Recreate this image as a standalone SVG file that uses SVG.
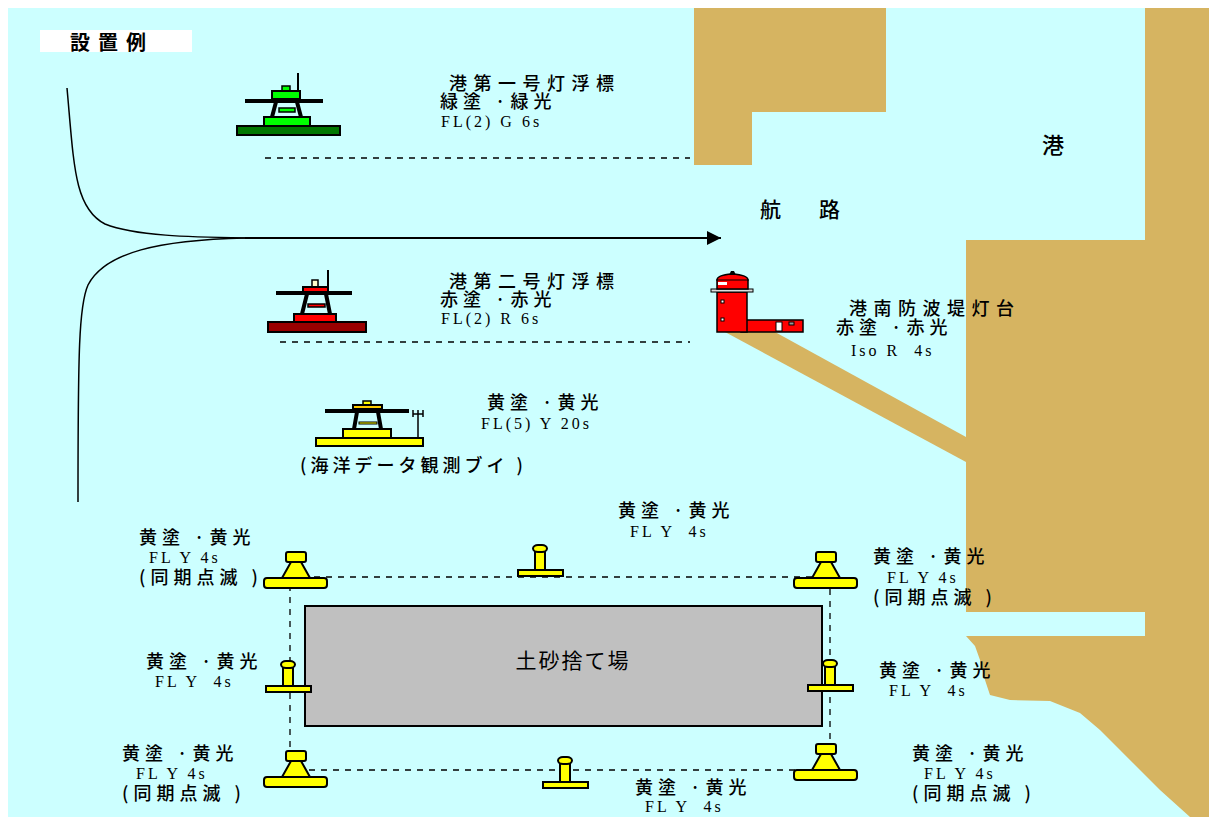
<svg xmlns="http://www.w3.org/2000/svg" width="1209" height="817" viewBox="0 0 1209 817">
  <defs>
    <style>
      .sea { fill: #CCFFFF; }
      .land { fill: #D6B461; }
      .ln { stroke: #000; stroke-width: 1.5; }
      .jp { font-family: "Noto Sans CJK JP", "Noto Sans", sans-serif; font-size: 18px; font-weight: 500; fill: #000; letter-spacing: 5px; white-space: pre; }
      .jp7 { letter-spacing: 6.5px; }
      .en { font-family: "Liberation Serif", "DejaVu Serif", serif; font-size: 16px; fill: #000; letter-spacing: 3px; white-space: pre; }
      .dash { fill: none; stroke: #000; stroke-width: 1.3; stroke-dasharray: 6 6; }
      .yb { fill: #FFFF00; stroke: #000; stroke-width: 2; }
    </style>
    <marker id="arrow" viewBox="0 0 10 10" refX="10" refY="5" markerWidth="24" markerHeight="14" markerUnits="userSpaceOnUse" orient="auto">
      <path d="M0,0 L10,5 L0,10 Z" fill="#000"/>
    </marker>
    <!-- large corner buoy -->
    <g id="bigbuoy">
      <path class="yb" d="M-5,10 L5,10 L14,26 L-14,26 Z"/>
      <rect class="yb" x="-10" y="0" width="20" height="10" rx="2"/>
      <rect class="yb" x="-32" y="26" width="63" height="10" rx="3"/>
    </g>
    <!-- small bollard buoy -->
    <g id="smallbuoy">
      <rect class="yb" x="-5" y="6" width="10" height="19"/>
      <rect class="yb" x="-7" y="0" width="14" height="7" rx="5"/>
      <rect class="yb" x="-22" y="25" width="45" height="6"/>
    </g>
  </defs>

  <!-- sea -->
  <rect x="0" y="0" width="1209" height="817" fill="#FFFFFF"/>
  <rect class="sea" x="8" y="8" width="1201" height="809"/>

  <!-- land masses -->
  <g id="land">
    <path class="land" d="M694,8 H886 V112 H752 V165 H694 Z"/>
    <path class="land" d="M1145,8 H1209 V817 H1190 L1180,808 L1160,790 L1140,770 L1120,750 L1100,730 L1080,713 L1050,701 L1010,700 L990,695 L985,680 L980,660 L975,646 L966,636 H1145 V612 H966 V240 H1145 Z"/>
    <!-- breakwater -->
    <path class="land" d="M725,332 H775 L966,437 V462 Z"/>
  </g>

  <!-- label -->
  <g id="title">
    <rect x="40" y="30" width="152" height="22" fill="#FFFFFF"/>
    <text x="70" y="50" font-family="Noto Sans CJK JP, sans-serif" font-size="20" font-weight="bold" letter-spacing="8">設置例</text>
  </g>

  <!-- connectors -->
  <g id="connectors">
    <path class="ln" fill="none" d="M67,88 C74,165 74,208 105,224 C135,236 190,237 245,238"/>
    <path class="ln" fill="none" d="M245,238 C160,240 105,252 88,285 C79,305 78,350 78,502"/>
    <line x1="245" y1="238" x2="721" y2="238" stroke="#000" stroke-width="2" marker-end="url(#arrow)"/>
    <line class="dash" x1="265" y1="158" x2="690" y2="158"/>
    <line class="dash" x1="280" y1="342" x2="690" y2="342"/>
    <path class="dash" d="M290,577 H830 V770 H290 Z"/>
  </g>

  <!-- waterway labels -->
  <text class="jp" x="760" y="217" style="font-size:21px; letter-spacing:38px">航路</text>
  <text class="jp" x="1042" y="153" style="font-size:22px">港</text>

  <!-- harbour buoy No.1 (green) -->
  <g id="buoy-g1">
    <line x1="298" y1="73" x2="298" y2="91" stroke="#000" stroke-width="2"/>
    <rect x="282" y="86" width="8" height="5" fill="#00FF00" stroke="#000" stroke-width="1.5"/>
    <rect x="272" y="91" width="28" height="8" fill="#00FF00" stroke="#000" stroke-width="2"/>
    <line x1="245" y1="101" x2="323" y2="101" stroke="#000" stroke-width="4"/>
    <path d="M276,102 L272,117 M297,102 L301,117" stroke="#000" stroke-width="4" fill="none"/>
    <rect x="279" y="108" width="16" height="4" fill="#00FF00" stroke="#000" stroke-width="1.5"/>
    <rect x="264" y="117" width="46" height="9" fill="#00FF00" stroke="#000" stroke-width="2"/>
    <rect x="237" y="126" width="103" height="9" fill="#007700" stroke="#000" stroke-width="2"/>
  </g>
  <text class="jp jp7" x="449" y="90">港第一号灯浮標</text>
  <text class="jp" x="440" y="108">緑塗 ·緑光</text>
  <text class="en" x="441" y="127">FL(2) G 6s</text>

  <!-- harbour buoy No.2 (red) -->
  <g id="buoy-r2">
    <line x1="328" y1="270" x2="328" y2="287" stroke="#000" stroke-width="2"/>
    <rect x="312" y="280" width="6" height="7" fill="#FFFFCC" stroke="#000" stroke-width="1.5"/>
    <rect x="303" y="287" width="25" height="6" fill="#FF0000" stroke="#000" stroke-width="2"/>
    <line x1="276" y1="293" x2="352" y2="293" stroke="#000" stroke-width="4"/>
    <path d="M307,294 L302,314 M326,294 L330,314" stroke="#000" stroke-width="4" fill="none"/>
    <rect x="308" y="304" width="17" height="3" fill="#FF0000" stroke="#000" stroke-width="1.5"/>
    <rect x="294" y="314" width="42" height="8" fill="#FF0000" stroke="#000" stroke-width="2"/>
    <rect x="268" y="322" width="98" height="10" fill="#990000" stroke="#000" stroke-width="2"/>
  </g>
  <text class="jp jp7" x="449" y="288">港第二号灯浮標</text>
  <text class="jp" x="440" y="306">赤塗 ·赤光</text>
  <text class="en" x="441" y="324">FL(2) R 6s</text>

  <!-- south breakwater lighthouse -->
  <g id="lighthouse">
    <rect x="741" y="320" width="62" height="12" fill="#FF0000" stroke="#000" stroke-width="1.5"/>
    <rect x="776" y="322" width="6" height="9" fill="#FFFFFF" stroke="#000" stroke-width="1"/>
    <rect x="789" y="322" width="5" height="3" fill="#999999" stroke="#000" stroke-width="1"/>
    <rect x="717" y="292" width="30" height="40" fill="#FF0000" stroke="#000" stroke-width="1.5"/>
    <rect x="721" y="300" width="3" height="3" fill="#FFFFFF" stroke="#000" stroke-width="1"/>
    <rect x="721" y="318" width="3" height="3" fill="#FFFFFF" stroke="#000" stroke-width="1"/>
    <rect x="711" y="289" width="42" height="3" fill="#DDDDDD" stroke="#000" stroke-width="1"/>
    <path d="M717,289 V280 Q717,275 732,274 Q748,275 748,280 V289 Z" fill="#FF0000" stroke="#000" stroke-width="1.5"/>
    <line x1="716" y1="280" x2="749" y2="280" stroke="#000" stroke-width="1"/>
    <rect x="718" y="282" width="9" height="3" fill="#FFFFFF"/>
    <path d="M729,275 L731,271 H734 L736,275 Z" fill="#000"/>
  </g>
  <text class="jp jp7" x="849" y="315">港南防波堤灯台</text>
  <text class="jp" x="836" y="334">赤塗 ·赤光</text>
  <text class="en" x="851" y="356">Iso R  4s</text>

  <!-- ocean data observation buoy (yellow) -->
  <g id="buoy-data">
    <rect x="363" y="401" width="8" height="4" fill="#FFFF00" stroke="#000" stroke-width="1.5"/>
    <rect x="353" y="405" width="29" height="4" fill="#FFCC00" stroke="#000" stroke-width="2"/>
    <line x1="325" y1="411" x2="409" y2="411" stroke="#000" stroke-width="4"/>
    <path d="M357,412 L354,429 M378,412 L381,429" stroke="#000" stroke-width="4" fill="none"/>
    <rect x="359" y="422" width="18" height="2" fill="#FFFF00" stroke="#000" stroke-width="1"/>
    <rect x="343" y="429" width="48" height="9" fill="#FFFF00" stroke="#000" stroke-width="2"/>
    <rect x="316" y="438" width="107" height="8" fill="#FFFF00" stroke="#000" stroke-width="2"/>
    <path d="M418,410 V438 M413,410 V417 M423,410 V417 M413,414 H423" stroke="#000" stroke-width="1.5" fill="none"/>
  </g>
  <text class="jp" x="487" y="409">黄塗 ·黄光</text>
  <text class="en" x="481" y="429">FL(5) Y 20s</text>
  <text class="jp" x="300" y="472" style="letter-spacing:4px">(海洋データ観測ブイ )</text>

  <!-- dumping ground -->
  <g id="dump">
    <rect x="305" y="606" width="517" height="120" fill="#C0C0C0" stroke="#000" stroke-width="2"/>
    <text x="573" y="668" text-anchor="middle" font-family="Noto Sans CJK JP, sans-serif" font-size="21" letter-spacing="2">土砂捨て場</text>
  </g>

  <!-- corner buoys -->
  <use id="buoy-tl" href="#bigbuoy" x="296" y="552"/>
  <use id="buoy-tr" href="#bigbuoy" x="826" y="552"/>
  <use id="buoy-bl" href="#bigbuoy" x="296" y="751"/>
  <use id="buoy-br" href="#bigbuoy" x="826" y="744"/>

  <!-- side buoys -->
  <use id="buoy-tm" href="#smallbuoy" x="540" y="545"/>
  <use id="buoy-lm" href="#smallbuoy" x="288" y="661"/>
  <use id="buoy-rm" href="#smallbuoy" x="830" y="660"/>
  <use id="buoy-bm" href="#smallbuoy" x="565" y="757"/>

  <!-- buoy labels -->
  <text class="jp" x="618" y="517">黄塗 ·黄光</text>
  <text class="en" x="630" y="537">FL Y  4s</text>

  <text class="jp" x="139" y="544">黄塗 ·黄光</text>
  <text class="en" x="149" y="563">FL Y 4s</text>
  <text class="jp" x="139" y="584">(同期点滅 )</text>

  <text class="jp" x="873" y="563">黄塗 ·黄光</text>
  <text class="en" x="887" y="583">FL Y 4s</text>
  <text class="jp" x="873" y="604">(同期点滅 )</text>

  <text class="jp" x="146" y="668">黄塗 ·黄光</text>
  <text class="en" x="155" y="687">FL Y  4s</text>

  <text class="jp" x="879" y="677">黄塗 ·黄光</text>
  <text class="en" x="889" y="696">FL Y  4s</text>

  <text class="jp" x="122" y="760">黄塗 ·黄光</text>
  <text class="en" x="136" y="779">FL Y 4s</text>
  <text class="jp" x="122" y="800">(同期点滅 )</text>

  <text class="jp" x="635" y="794">黄塗 ·黄光</text>
  <text class="en" x="645" y="812">FL Y  4s</text>

  <text class="jp" x="912" y="760">黄塗 ·黄光</text>
  <text class="en" x="924" y="779">FL Y 4s</text>
  <text class="jp" x="912" y="800">(同期点滅 )</text>
</svg>
